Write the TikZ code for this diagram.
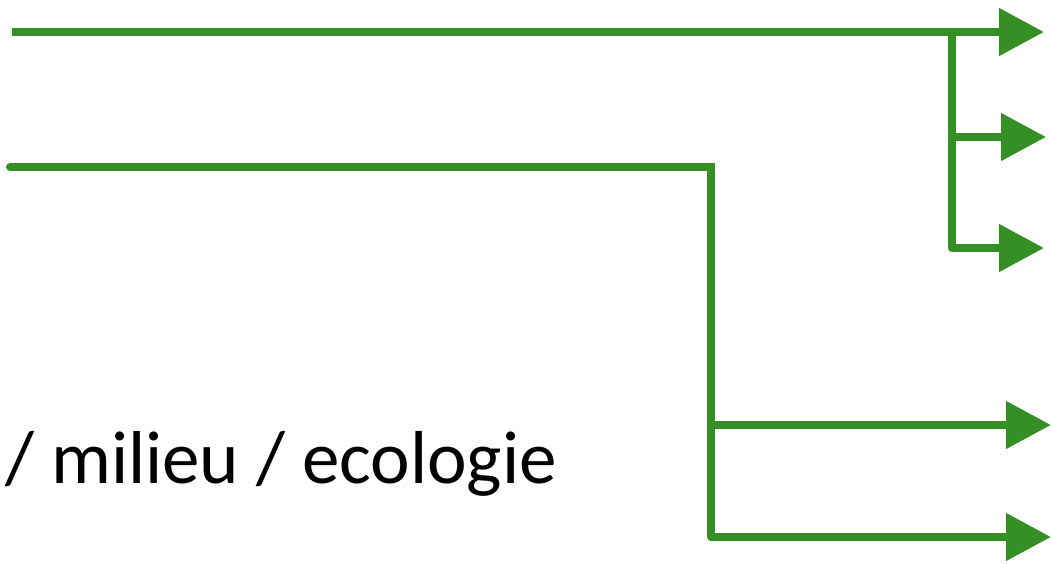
\documentclass[tikz,border=0pt]{standalone}
\usepackage{fontspec}
\setmainfont{Carlito}
\usetikzlibrary{arrows.meta}
\definecolor{lgreen}{RGB}{53,143,37}
\tikzset{
  flow/.style={draw=lgreen,line width=8pt,line cap=round,line join=miter},
  arr/.style={flow,-{Triangle[length=45pt,width=46pt]},line cap=butt},
}
\begin{document}
\begin{tikzpicture}[x=1pt,y=-1pt]
\useasboundingbox (0,0) rectangle (1051,563);
% top line
\coordinate (s1) at (12,32);
\coordinate (j1) at (952,32);
\coordinate (e1) at (1044,32);
\coordinate (b1) at (952,137);
\coordinate (e2) at (1046,137);
\coordinate (c1) at (952,248);
\coordinate (e3) at (1044,248);
% second line
\coordinate (s2) at (10,167);
\coordinate (c2) at (711,167);
\coordinate (b2) at (711,425);
\coordinate (e4) at (1051,425);
\coordinate (c3) at (711,537);
\coordinate (e5) at (1051,537);
\draw[arr] (s1) -- (e1);
\draw[flow] (j1) -- (c1);
\draw[arr] (b1) -- (e2);
\draw[arr] (c1) -- (e3);
\draw[flow] (s2) -- (c2) -- (c3);
\draw[arr] (b2) -- (e4);
\draw[arr] (c3) -- (e5);
\node[anchor=base west,inner sep=0pt,font=\fontsize{75}{88}\selectfont] (txt) at (5,483) {/ milieu / ecologie};
\end{tikzpicture}
\end{document}
